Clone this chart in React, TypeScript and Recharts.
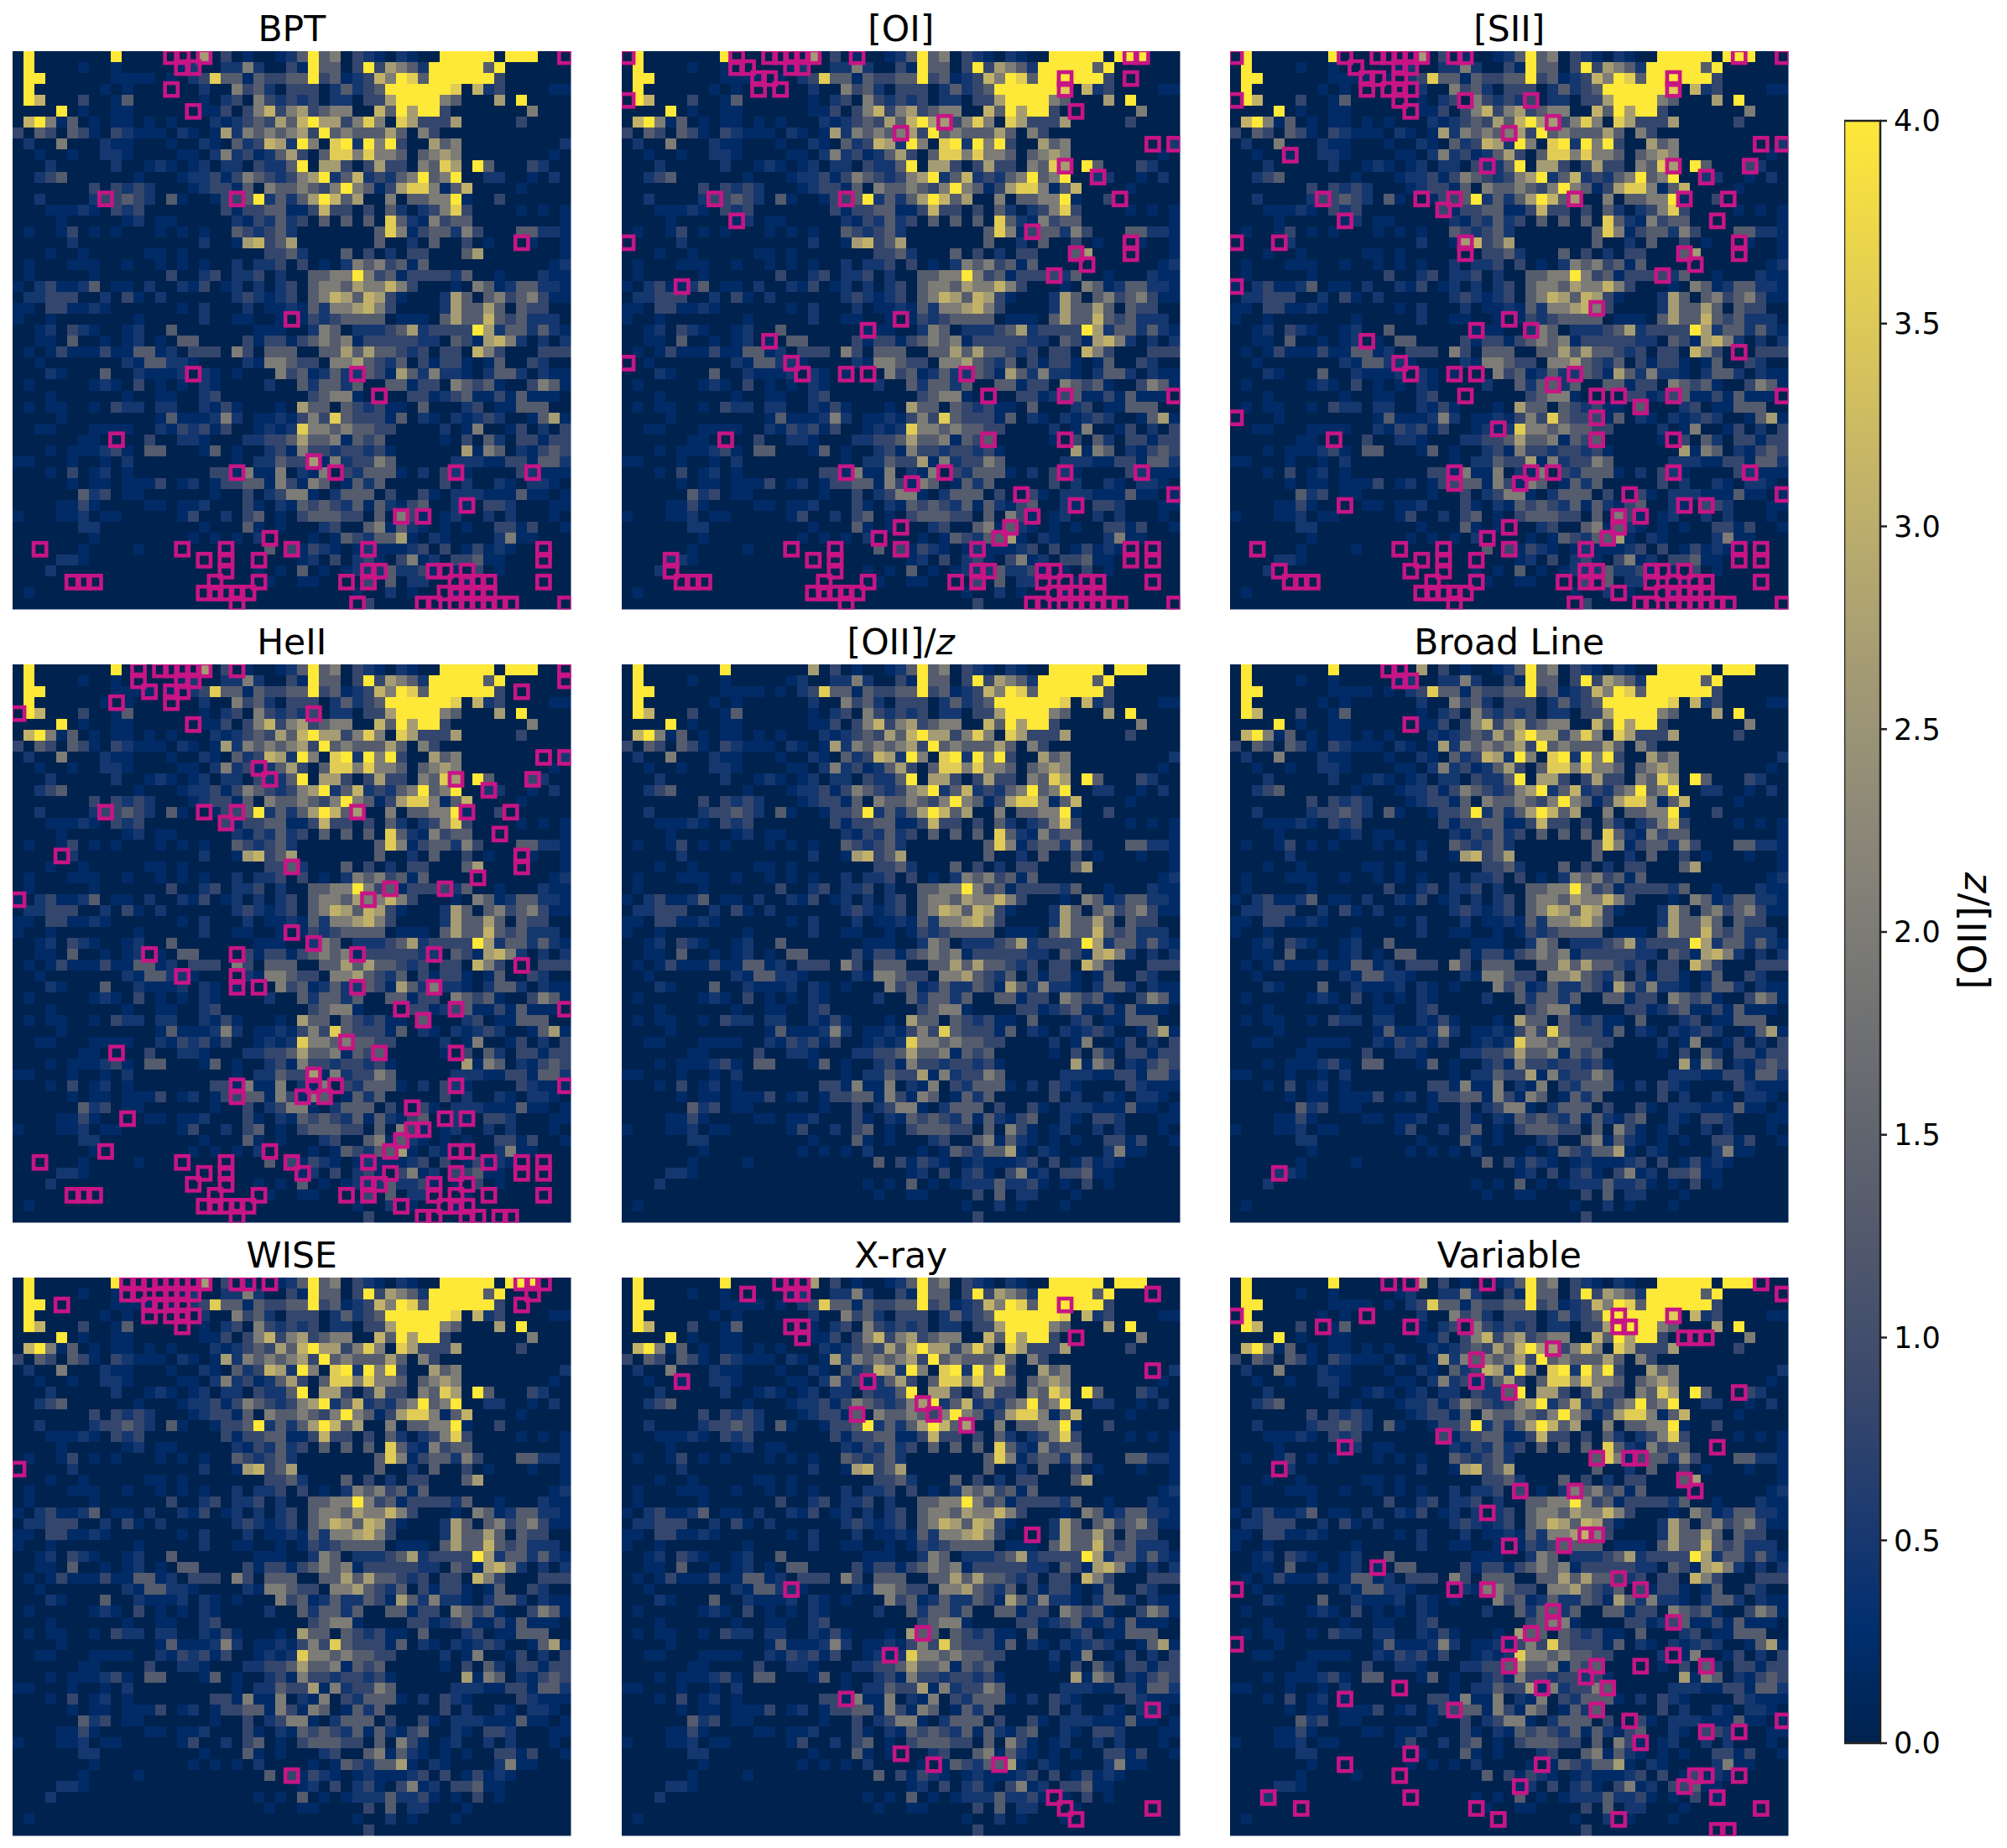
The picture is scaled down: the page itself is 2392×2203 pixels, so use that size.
import { ScatterChart, Scatter, XAxis, YAxis, BarChart, Bar } from "recharts";

const FONT = '"DejaVu Sans", sans-serif';

// one character per cell, left to right, top to bottom (0 = lowest bin, 9 = saturated)
const heatRows = [
  "09000000090000000603010012" + "4945032102100999990999000",
  "09000010010000012002252003" + "1944039365429999949000000",
  "09900000011110102384414334" + "4934123759849999993000000",
  "09000000101000000200534203" + "3302423499999980723000011",
  "09700030014000000102305323" + "2302203369999540006090000",
  "00009010011000000113035735" + "6345500749699300000005000",
  "07951401011010100021234364" + "7966358508633360000030000",
  "30430431032111021016254545" + "6394544464053000000000000",
  "02005000211000100210423762" + "9508929593006450000000002",
  "00100100221000011025231246" + "3048858554045650000000010",
  "00020000020012101202203224" + "9066303633054860940003200",
  "00234000000100012231354323" + "5692472324594590022001020",
  "00000003032320001233140544" + "5435954136885147000010000",
  "00200002334320410013349242" + "4697460050445591003000000",
  "00011121032300000003133441" + "1373303042023583000010101",
  "00001000001201100000213242" + "3040404084215344000000001",
  "01001301010001010100432342" + "0000000485134425300044221",
  "00000200000000000200167346" + "0000000400204003010001001",
  "00010010000011010000000334" + "2000403020330004600000001",
  "01000111001001010100202230" + "3010254534140000000000012",
  "01000001000000300230223020" + "0445595341333324001000211",
  "10231124011020021301202023" + "0455465575300010541244221",
  "02233300203102000000232123" + "0457647631000264045345311",
  "11033112100000010200020112" + "1425567530000264464043300",
  "10010000000100000200110010" + "1323444401110464474342220",
  "00120321001200400000001110" + "0254022234623333962442421",
  "00110400101201044000031331" + "3454513333322043167520202",
  "01013111311441203330530444" + "0044646443230330753000333",
  "00100000002144221000021554" + "3305564324031331014003200",
  "00021000400211120210100053" + "4124224316425221024420211",
  "01000001210301010210000200" + "4244240044133054341003541",
  "00010000001001100230000000" + "0345510000331234113141110",
  "01011001032202200213100010" + "6440432311040002301144400",
  "00001000000001411125201121" + "3538433314021021232001461",
  "00110001111002132313001212" + "8554544330000201500130203",
  "00000011000030022100022334" + "6445143400000103042033133",
  "00010111231044000140100231" + "5332332310000006154021343",
  "11000100102000000000102243" + "3615233540000022211331442",
  "00010301201000000033151150" + "2150324441020321000032111",
  "00000101101113012013344153" + "1540142400000302002102210",
  "00000042301100000010030235" + "5102444030031022211141101",
  "00001131000011011200031021" + "4343241421340021033200011",
  "10001120110000013002034010" + "3444330405310120020200010",
  "00000022000000000100041010" + "0023004514210101003313001",
  "00000001000000001010102000" + "0101432446102100002511000",
  "00000010000100000000000403" + "1321012111230301312100000",
  "00002210000000000000000000" + "1203023103512033411000000",
  "00020000000000000000001010" + "4010122242231010301000000",
  "00000000000000000000000100" + "1100003040220001000000000",
  "01000000000000000000000000" + "0000010020100010000000000",
  "00000000000000000000000000" + "0000003000000000000000000",
];

// colour value of each bin
const levelValues = [0, 0.2, 0.48, 0.82, 1.3, 2.0, 2.67, 3.1, 3.55, 4.0];

const cbarTicks = [0, 0.5, 1, 1.5, 2, 2.5, 3, 3.5, 4];

// flagged cells per panel, as [column, row]
const bptCells = [
  [14,0],[15,0],[17,0],[50,0],[15,1],[16,1],[14,3],[16,5],[8,13],[20,13],[46,17],[25,24],[16,29],[31,29],[33,31],[9,35],
  [27,37],[20,38],[29,38],[40,38],[47,38],[41,41],[35,42],[37,42],[23,44],[2,45],[15,45],[19,45],[25,45],[32,45],[48,45],
  [17,46],[19,46],[22,46],[48,46],[19,47],[32,47],[33,47],[38,47],[39,47],[41,47],[5,48],[6,48],[7,48],[18,48],[22,48],
  [30,48],[32,48],[40,48],[41,48],[42,48],[43,48],[48,48],[17,49],[18,49],[19,49],[20,49],[21,49],[39,49],[40,49],[41,49],
  [42,49],[43,49],[20,50],[31,50],[37,50],[38,50],[40,50],[41,50],[42,50],[43,50],[44,50],[45,50],[50,50],
];
const oiCells = [
  [0,0],[10,0],[13,0],[14,0],[15,0],[16,0],[17,0],[21,0],[46,0],[47,0],[10,1],[11,1],[15,1],[16,1],[12,2],[13,2],[40,2],[46,2],
  [12,3],[14,3],[40,3],[0,4],[41,5],[29,6],[25,7],[48,8],[50,8],[40,10],[43,11],[8,13],[20,13],[45,13],[10,15],[37,16],
  [0,17],[46,17],[41,18],[46,18],[42,19],[39,20],[5,21],[25,24],[22,25],[13,26],[0,28],[15,28],[16,29],[20,29],[22,29],[31,29],
  [33,31],[40,31],[50,31],[9,35],[33,35],[40,35],[20,38],[29,38],[40,38],[47,38],[26,39],[36,40],[50,40],[41,41],[37,42],
  [25,43],[35,43],[23,44],[34,44],[15,45],[19,45],[25,45],[32,45],[46,45],[48,45],[4,46],[17,46],[19,46],[46,46],[48,46],
  [4,47],[19,47],[32,47],[33,47],[38,47],[39,47],[5,48],[6,48],[7,48],[18,48],[22,48],[30,48],[32,48],[38,48],[40,48],[42,48],
  [43,48],[48,48],[17,49],[18,49],[19,49],[20,49],[21,49],[39,49],[40,49],[41,49],[42,49],[43,49],[20,50],[37,50],[38,50],
  [40,50],[41,50],[42,50],[43,50],[44,50],[45,50],[50,50],
];
const siiCells = [
  [0,0],[10,0],[13,0],[14,0],[15,0],[16,0],[17,0],[20,0],[21,0],[46,0],[50,0],[11,1],[15,1],[16,1],[12,2],[13,2],[15,2],[40,2],
  [12,3],[14,3],[15,3],[16,3],[40,3],[0,4],[15,4],[21,4],[27,4],[16,5],[29,6],[25,7],[48,8],[50,8],[5,9],[23,10],[40,10],[47,10],
  [43,11],[8,13],[17,13],[20,13],[31,13],[41,13],[45,13],[19,14],[10,15],[44,15],[0,17],[4,17],[21,17],[46,17],[21,18],[41,18],
  [46,18],[42,19],[39,20],[0,21],[33,23],[25,24],[22,25],[27,25],[12,26],[46,27],[15,28],[16,29],[20,29],[22,29],[31,29],[29,30],
  [21,31],[33,31],[35,31],[40,31],[50,31],[37,32],[0,33],[33,33],[24,34],[9,35],[33,35],[40,35],[20,38],[27,38],[29,38],[40,38],
  [47,38],[20,39],[26,39],[36,40],[50,40],[10,41],[41,41],[43,41],[35,42],[37,42],[25,43],[35,43],[23,44],[34,44],[2,45],[15,45],
  [19,45],[25,45],[32,45],[46,45],[48,45],[17,46],[19,46],[22,46],[46,46],[48,46],[4,47],[16,47],[19,47],[32,47],[33,47],[38,47],
  [39,47],[41,47],[5,48],[6,48],[7,48],[18,48],[22,48],[30,48],[32,48],[33,48],[38,48],[40,48],[42,48],[43,48],[48,48],[17,49],
  [18,49],[19,49],[20,49],[21,49],[35,49],[39,49],[40,49],[41,49],[42,49],[43,49],[20,50],[31,50],[37,50],[38,50],[40,50],[41,50],
  [42,50],[43,50],[44,50],[45,50],[50,50],
];
const heiiCells = [
  [11,0],[13,0],[14,0],[15,0],[16,0],[17,0],[20,0],[50,0],[11,1],[15,1],[16,1],[50,1],[12,2],[14,2],[15,2],[46,2],[9,3],[14,3],
  [0,4],[27,4],[16,5],[48,8],[50,8],[22,9],[23,10],[40,10],[47,10],[43,11],[8,13],[17,13],[20,13],[31,13],[41,13],[45,13],[19,14],
  [44,15],[4,17],[46,17],[25,18],[46,18],[42,19],[34,20],[39,20],[0,21],[32,21],[25,24],[27,25],[12,26],[20,26],[31,26],[38,26],
  [46,27],[15,28],[20,28],[20,29],[22,29],[31,29],[38,29],[35,31],[40,31],[50,31],[37,32],[30,34],[9,35],[33,35],[40,35],[27,37],
  [20,38],[27,38],[29,38],[40,38],[50,38],[20,39],[26,39],[28,39],[36,40],[10,41],[39,41],[41,41],[36,42],[37,42],[35,43],[8,44],
  [23,44],[34,44],[40,44],[41,44],[2,45],[15,45],[19,45],[25,45],[32,45],[43,45],[46,45],[48,45],[17,46],[19,46],[26,46],[34,46],
  [40,46],[46,46],[48,46],[16,47],[19,47],[32,47],[33,47],[38,47],[41,47],[5,48],[6,48],[7,48],[18,48],[22,48],[30,48],[32,48],
  [38,48],[40,48],[43,48],[48,48],[17,49],[18,49],[19,49],[20,49],[21,49],[35,49],[39,49],[40,49],[41,49],[20,50],[37,50],[38,50],
  [41,50],[42,50],[44,50],[45,50],
];
const oiizCells: number[][] = [];
const broadCells = [[14,0],[15,0],[15,1],[16,1],[16,5],[4,46]];
const wiseCells = [
  [10,0],[11,0],[12,0],[13,0],[14,0],[15,0],[16,0],[17,0],[20,0],[21,0],[23,0],[46,0],[47,0],[48,0],[10,1],[11,1],[13,1],[14,1],
  [15,1],[16,1],[47,1],[4,2],[12,2],[13,2],[14,2],[15,2],[46,2],[12,3],[14,3],[15,3],[16,3],[15,4],[0,17],[25,45],
];
const xrayCells = [
  [14,0],[15,0],[16,0],[11,1],[15,1],[16,1],[48,1],[40,2],[15,4],[16,4],[16,5],[41,5],[48,8],[5,9],[22,9],[27,11],[21,12],[28,12],
  [31,13],[37,23],[15,28],[27,32],[24,34],[20,38],[48,39],[25,43],[28,44],[34,44],[39,47],[40,48],[48,48],[41,49],
];
const variableCells = [
  [14,0],[16,0],[23,0],[48,0],[50,1],[0,3],[12,3],[35,3],[40,3],[8,4],[16,4],[21,4],[35,4],[36,4],[41,5],[42,5],[43,5],[29,6],[22,7],
  [22,9],[25,10],[46,10],[19,14],[10,15],[44,15],[33,16],[36,16],[37,16],[4,17],[41,18],[26,19],[31,19],[42,19],[23,21],[32,23],
  [33,23],[25,24],[30,24],[13,26],[35,27],[0,28],[20,28],[23,28],[37,28],[29,30],[29,31],[40,31],[27,32],[0,33],[25,33],[40,34],
  [25,35],[33,35],[37,35],[43,35],[32,36],[15,37],[28,37],[34,37],[10,38],[20,39],[33,39],[36,40],[50,40],[43,41],[46,41],[37,42],
  [16,43],[10,44],[28,44],[15,45],[42,45],[43,45],[46,45],[26,46],[41,46],[3,47],[16,47],[44,47],[6,48],[22,48],[48,48],[24,49],
  [35,49],[44,50],[45,50],
];

// cividis, position in the 0..1 range and rgb
const cividisStops: [number, number[]][] = [
  [0, [0, 34, 78]],
  [0.07, [0, 47, 111]],
  [0.111, [18, 53, 112]],
  [0.222, [59, 73, 108]],
  [0.333, [87, 93, 109]],
  [0.444, [112, 113, 115]],
  [0.556, [138, 134, 120]],
  [0.667, [165, 156, 116]],
  [0.778, [195, 179, 105]],
  [0.889, [225, 204, 85]],
  [1, [254, 232, 56]],
];

function cividis(t: number) {
  for (let i = 1; i < cividisStops.length; i++) {
    const [p0, c0] = cividisStops[i - 1];
    const [p1, c1] = cividisStops[i];
    if (t <= p1) {
      const f = (t - p0) / (p1 - p0);
      return `rgb(${c0.map((c, k) => Math.round(c + (c1[k] - c) * f)).join(",")})`;
    }
  }
  return "rgb(254,232,56)";
}

const PANEL = 665.5;
const CELL = PANEL / 51;
const MARK_SIDE = 15.2;
const MARK_COLOR = "#c71585";

const heatData = heatRows.flatMap((line, row) =>
  line.split("").map((ch, col) => ({ col: col + 0.5, row: row + 0.5, value: levelValues[Number(ch)] }))
);

const toPoints = (cells: number[][]) => cells.map(([col, row]) => ({ col: col + 0.5, row: row + 0.5 }));

const panels = [
  { title: "BPT", cells: bptCells, left: 15, top: 61 },
  { title: "[OI]", cells: oiCells, left: 741, top: 61 },
  { title: "[SII]", cells: siiCells, left: 1466, top: 61 },
  { title: "HeII", cells: heiiCells, left: 15, top: 792 },
  { title: "[OII]/z", cells: oiizCells, left: 741, top: 792 },
  { title: "Broad Line", cells: broadCells, left: 1466, top: 792 },
  { title: "WISE", cells: wiseCells, left: 15, top: 1523 },
  { title: "X-ray", cells: xrayCells, left: 741, top: 1523 },
  { title: "Variable", cells: variableCells, left: 1466, top: 1523 },
];

const HeatCell = (props: any) => (
  <rect
    x={props.cx - CELL / 2}
    y={props.cy - CELL / 2}
    width={CELL}
    height={CELL}
    fill={cividis(props.payload.value / 4)}
    shapeRendering="crispEdges"
  />
);

const Marker = (props: any) => (
  <rect
    x={props.cx - MARK_SIDE / 2}
    y={props.cy - MARK_SIDE / 2}
    width={MARK_SIDE}
    height={MARK_SIDE}
    fill="none"
    stroke={MARK_COLOR}
    strokeWidth={4.6}
  />
);

function OiiZ() {
  return (
    <>
      [OII]/<tspan fontStyle="italic">z</tspan>
    </>
  );
}

function Panel({ title, cells, left, top }: { title: string; cells: number[][]; left: number; top: number }) {
  return (
    <>
      <svg style={{ position: "absolute", left, top: top - 61, overflow: "visible" }} width={PANEL} height={61}>
        <text x={PANEL / 2} y={49} textAnchor="middle" fontFamily={FONT} fontSize={42.5}>
          {title === "[OII]/z" ? <OiiZ /> : title}
        </text>
      </svg>
      <div style={{ position: "absolute", left, top }}>
        <ScatterChart width={PANEL} height={PANEL} margin={{ top: 0, right: 0, bottom: 0, left: 0 }}>
          <XAxis type="number" dataKey="col" domain={[0, 51]} hide allowDataOverflow />
          <YAxis type="number" dataKey="row" domain={[0, 51]} reversed hide allowDataOverflow />
          <Scatter data={heatData} shape={HeatCell} isAnimationActive={false} />
          <Scatter data={toPoints(cells)} shape={Marker} isAnimationActive={false} />
        </ScatterChart>
      </div>
    </>
  );
}

function Colorbar() {
  return (
    <div style={{ position: "absolute", left: 2198, top: 114 }}>
      <BarChart
        width={180}
        height={1994}
        data={[{ name: "cbar", top: 4 }]}
        margin={{ top: 30, right: 0, bottom: 30, left: 0 }}
        barCategoryGap={0}
      >
        <defs>
          <linearGradient id="cbarFill" x1="0" y1="1" x2="0" y2="0">
            {cividisStops.map(([p]) => (
              <stop key={p} offset={p} stopColor={cividis(p)} />
            ))}
          </linearGradient>
        </defs>
        <XAxis dataKey="name" hide />
        <YAxis
          orientation="right"
          width={137}
          domain={[0, 4]}
          ticks={cbarTicks}
          interval={0}
          tickFormatter={(v: number) => v.toFixed(1)}
          axisLine={false}
          tickSize={8}
          tickMargin={8}
          tick={{ fontFamily: FONT, fontSize: 35, fill: "#000" }}
          tickLine={{ stroke: "#222", strokeWidth: 2.5 }}
        />
        <Bar dataKey="top" fill="url(#cbarFill)" stroke="#222" strokeWidth={2.5} isAnimationActive={false} />
      </BarChart>
    </div>
  );
}

export default function App() {
  return (
    <div style={{ position: "absolute", left: 0, top: 0, width: 2392, height: 2203, background: "#fff" }}>
      {panels.map((p) => (
        <Panel key={p.title} {...p} />
      ))}
      <Colorbar />
      <svg style={{ position: "absolute", left: 2300, top: 1000 }} width={92} height={220}>
        <text
          transform="translate(54,110) rotate(-90)"
          textAnchor="middle"
          dominantBaseline="middle"
          fontFamily={FONT}
          fontSize={46}
        >
          <OiiZ />
        </text>
      </svg>
    </div>
  );
}
